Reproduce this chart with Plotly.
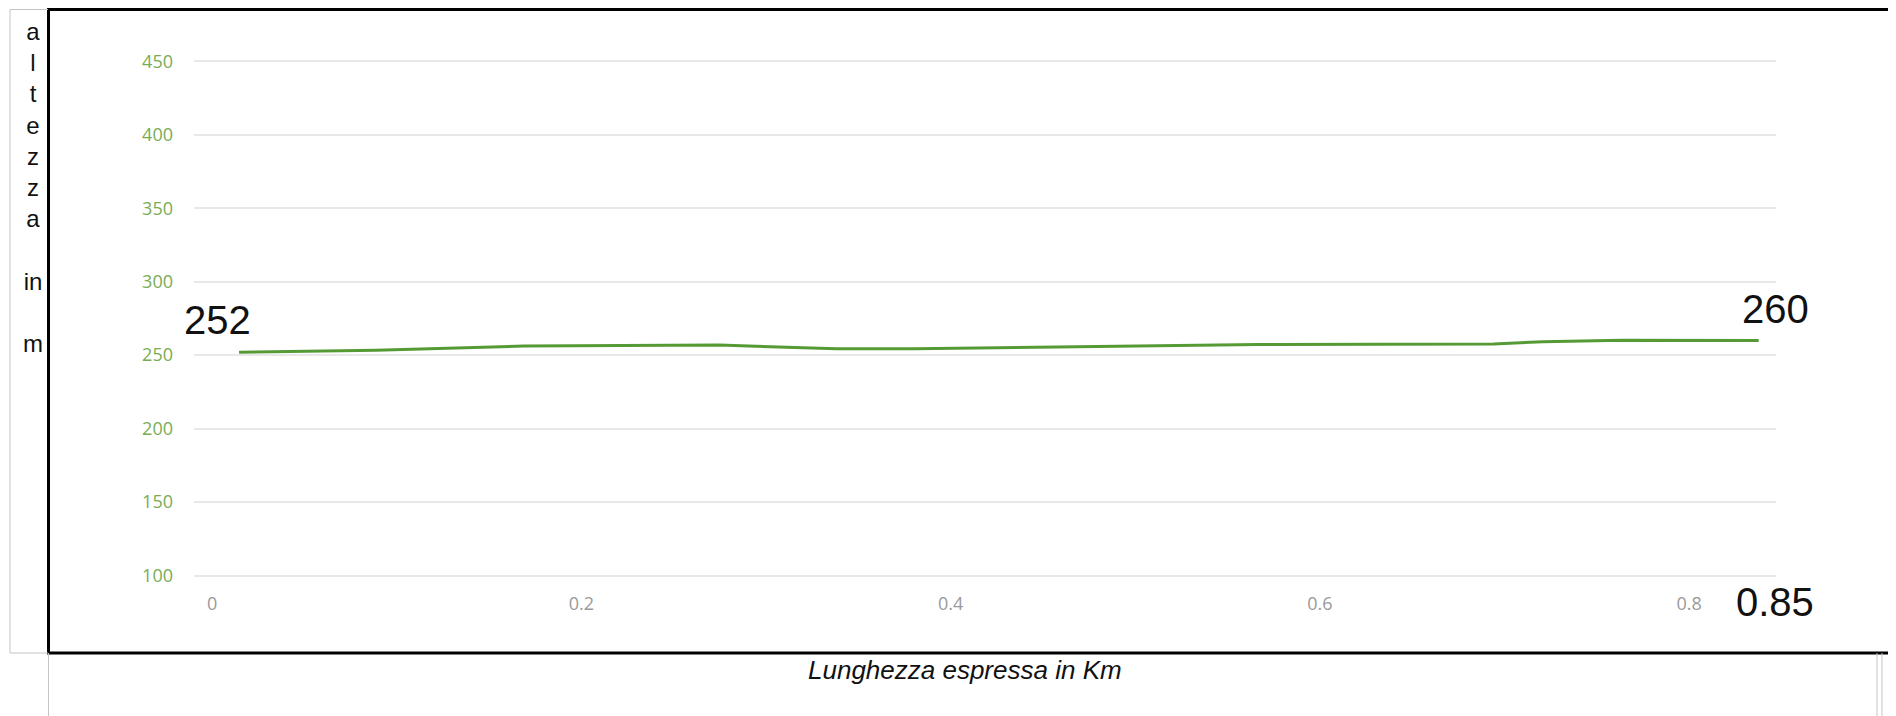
import plotly.graph_objects as go

# ---- data ----
distance_km = [0.0146, 0.0888, 0.169, 0.2748, 0.2906, 0.3381, 0.3806, 0.4875, 0.5666, 0.694, 0.7208, 0.7634, 0.8376]
altitude_m = [252, 253.4, 256.2, 256.9, 256.2, 254.4, 254.4, 255.8, 257.2, 257.6, 259.1, 260.2, 260]
x_tick_vals = [0, 0.2, 0.4, 0.6, 0.8]
x_tick_text = ["0", "0.2", "0.4", "0.6", "0.8"]
y_tick_vals = [100, 150, 200, 250, 300, 350, 400, 450]
start_label = "252"
end_label = "260"
total_km_label = "0.85"
y_title_letters = ["a", "l", "t", "e", "z", "z", "a", "", "in", "", "m"]
x_title = "Lunghezza espressa in Km"

W, H = 1896, 716
ML, MR, MT, MB = 186, 128, 52, 147
PW = W - ML - MR
PH = H - MT - MB


def px(x):
    return (x - ML) / PW


def py(y):
    return (H - MB - y) / PH


fig = go.Figure()
fig.add_trace(go.Scatter(
    x=distance_km, y=altitude_m, mode="lines",
    line=dict(color="#559a35", width=3), hoverinfo="skip", showlegend=False,
))

annotations = [
    dict(x=distance_km[0], y=altitude_m[0], xref="x", yref="y", text=start_label,
         showarrow=False, xshift=-22, yshift=32,
         font=dict(family="Arial, Liberation Sans", size=40, color="#111111")),
    dict(x=distance_km[-1], y=altitude_m[-1], xref="x", yref="y", text=end_label,
         showarrow=False, xshift=17, yshift=31,
         font=dict(family="Arial, Liberation Sans", size=40, color="#111111")),
    dict(x=px(1767), y=py(594), xref="paper", yref="paper", text=total_km_label,
         showarrow=False, xanchor="center", yanchor="middle",
         font=dict(family="Arial, Liberation Sans", size=40, color="#111111")),
    dict(x=px(25), y=py(8), xref="paper", yref="paper",
         text="<br>".join(y_title_letters), showarrow=False,
         xanchor="center", yanchor="top", align="center",
         font=dict(family="Arial, Liberation Sans", size=24, color="#111111")),
    dict(x=px(957), y=py(662), xref="paper", yref="paper", text="<i>" + x_title + "</i>",
         showarrow=False, xanchor="center", yanchor="middle",
         font=dict(family="Arial, Liberation Sans", size=26, color="#111111")),
]

gray = dict(color="#c4c4c4", width=1)
shapes = [
    # outer black frame
    dict(type="rect", xref="paper", yref="paper", x0=px(40.5), x1=px(1887), y0=py(645), y1=py(1.5),
         line=dict(color="#000000", width=3), layer="above"),
    # table cell borders
    dict(type="line", xref="paper", yref="paper", x0=px(2), x1=px(40), y0=py(1.5), y1=py(1.5), line=gray),
    dict(type="line", xref="paper", yref="paper", x0=px(2), x1=px(2), y0=py(1.5), y1=py(645), line=gray),
    dict(type="line", xref="paper", yref="paper", x0=px(2), x1=px(40), y0=py(645), y1=py(645), line=gray),
    dict(type="line", xref="paper", yref="paper", x0=px(40.5), x1=px(40.5), y0=py(645), y1=py(716), line=gray),
    dict(type="line", xref="paper", yref="paper", x0=px(1869), x1=px(1869), y0=py(645), y1=py(716), line=gray),
    dict(type="line", xref="paper", yref="paper", x0=px(1874), x1=px(1874), y0=py(645), y1=py(716), line=gray),
]

fig.update_layout(
    width=W, height=H,
    margin=dict(l=ML, r=MR, t=MT, b=MB),
    paper_bgcolor="white", plot_bgcolor="white",
    xaxis=dict(range=[-0.0098, 0.847], tickvals=x_tick_vals, ticktext=x_tick_text,
               showgrid=False, zeroline=False, showline=False, ticks="",
               ticklabelstandoff=14,
               tickfont=dict(family="Open Sans", size=18, color="#9a9a9a")),
    yaxis=dict(range=[98.98, 450.9], tickvals=y_tick_vals,
               showgrid=True, gridcolor="#e8e8e8", gridwidth=2,
               zeroline=False, showline=False, ticks="",
               ticklabelstandoff=20,
               tickfont=dict(family="Open Sans", size=18, color="#79ad55")),
    annotations=annotations,
    shapes=shapes,
    showlegend=False,
)

fig.write_html("out.html")
